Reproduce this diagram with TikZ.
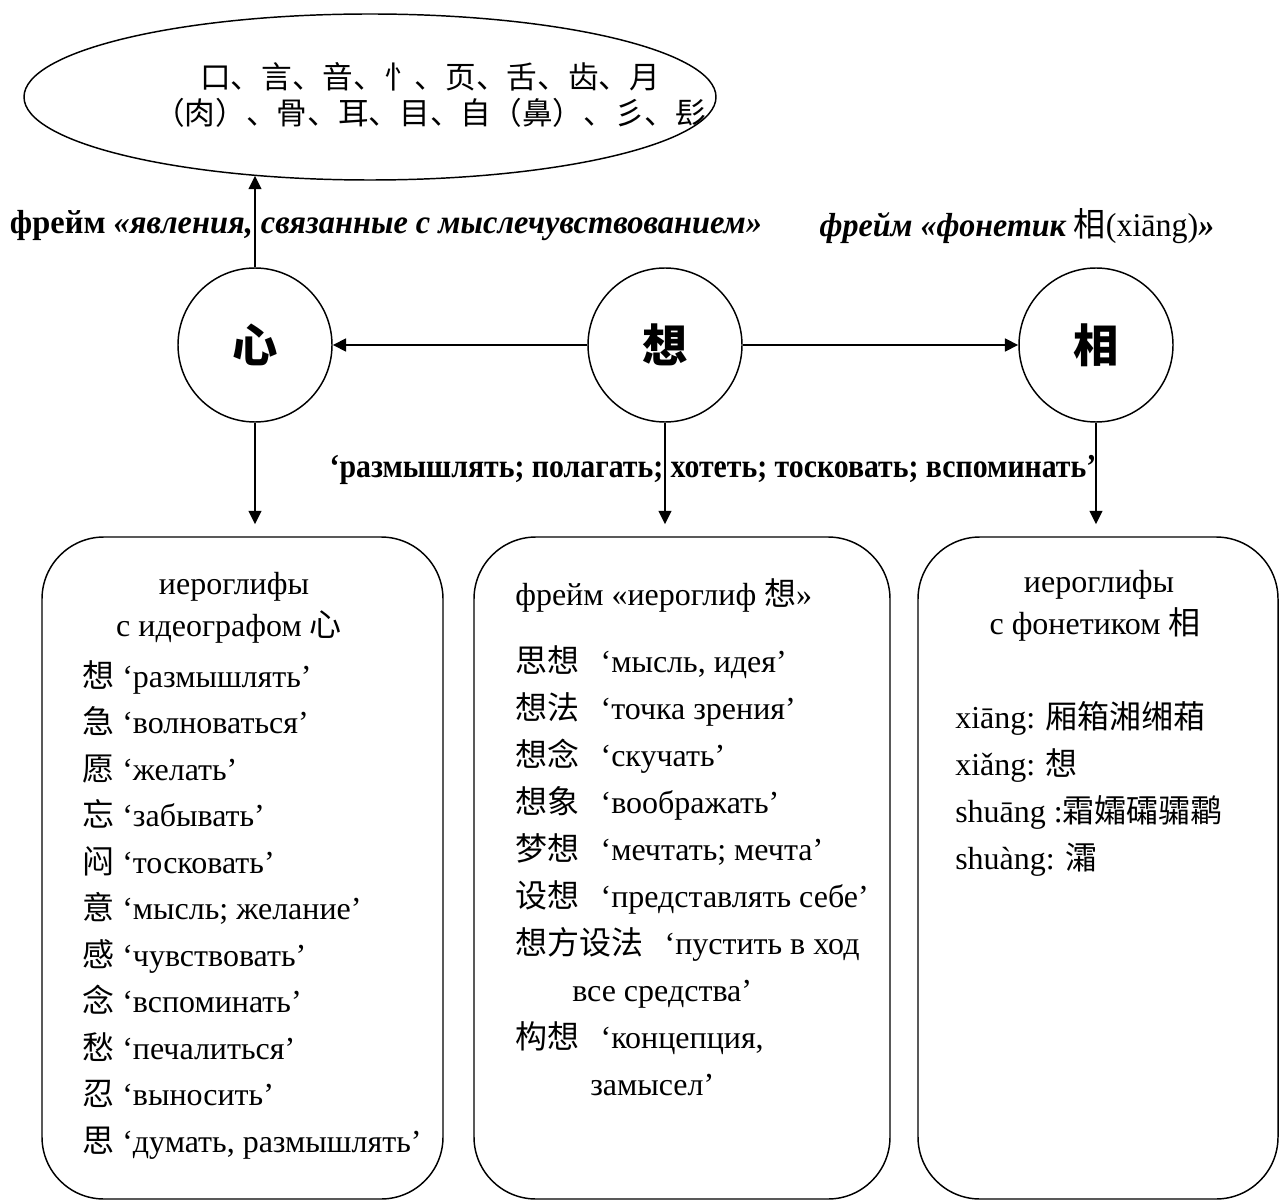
\documentclass[tikz,border=0pt]{standalone}
\usepackage{fontspec}
\setmainfont{Liberation Serif}
\newfontfamily\cjk{Noto Sans CJK SC}
\usetikzlibrary{arrows.meta,shapes.geometric}
\newcommand\zh[1]{{\cjk #1}}
\begin{document}
\begin{tikzpicture}[x=0.75pt,y=-0.75pt,
  circ/.style={circle,draw,line width=1.1pt,minimum size=115.5pt,inner sep=0pt,
    font=\cjk\bfseries\fontsize{34}{40}\selectfont},
  framebox/.style={draw,line width=1.1pt,rounded corners=46.5pt,minimum height=496.5pt,inner sep=0pt},
  body/.style={font=\fontsize{24}{28}\selectfont,inner sep=0pt},
  varr/.style={line width=1.5pt,-{Triangle[length=10pt,width=9.5pt]}},
  harr/.style={line width=2pt,-{Triangle[length=10pt,width=9.5pt]}},
  lab/.style={inner sep=0pt,font=\fontsize{25}{30}\selectfont}]
\useasboundingbox (0,0) rectangle (1280,1201);

% top ellipse
\node[ellipse,draw,line width=1.1pt,minimum width=519pt,minimum height=124.5pt,inner sep=0pt] (ell) at (370,97) {};
\node[align=center,inner sep=0pt,font=\cjk\fontsize{23}{27}\selectfont] (ellTxt) at (430,95)
  {口、言、音、忄、页、舌、齿、月\\（肉）、骨、耳、目、自（鼻）、彡、髟};

% circles
\node[circ] (cXin) at (255,345) {心};
\node[circ] (cXiang) at (665,345) {想};
\node[circ] (cXiangP) at (1096,345) {相};

% labels
\node[lab] (labL) at (386,226) {\resizebox{564pt}{\height}{\bfseries фрейм \itshape «явления, связанные с мыслечувствованием»}};
\node[lab] (labR) at (1017,226) {\resizebox{296pt}{\height}{\bfseries\itshape фрейм «фонетик \normalfont\zh{相}(xiāng)\bfseries\itshape»}};
\node[lab] (labM) at (713,470) {\resizebox{575pt}{\height}{\bfseries ‘размышлять; полагать; хотеть; тосковать; вспоминать’}};

% boxes
\node[framebox,minimum width=300.75pt] (boxL) at (242.5,868) {};
\node[framebox,minimum width=312pt] (boxM) at (682,868) {};
\node[framebox,minimum width=270pt] (boxR) at (1098,868) {};

% connectors
\draw[varr] (cXin.north) -- (cXin.north |- ell.214);
\draw[harr] (cXiang.west) -- (cXin.east);
\draw[harr] (cXiang.east) -- (cXiangP.west);
\draw[varr,shorten >=9pt] (cXin.south) -- (cXin.south |- boxL.north);
\draw[varr,shorten >=9pt] (cXiang.south) -- (cXiang.south |- boxM.north);
\draw[varr,shorten >=9pt] (cXiangP.south) -- (cXiangP.south |- boxR.north);

% left box text
\node[body,anchor=base] (LH1) at (234,594) {иероглифы};
\node[body,anchor=base] (LH2) at (229,636) {с идеографом \zh{心}};
\foreach \c/\t [count=\i from 0] in {想/{‘размышлять’},急/{‘волноваться’},愿/{‘желать’},忘/{‘забывать’},闷/{‘тосковать’},意/{‘мысль; желание’},感/{‘чувствовать’},念/{‘вспоминать’},愁/{‘печалиться’},忍/{‘выносить’},思/{‘думать, размышлять’}}
  \node[body,anchor=base west] (L\i) at (82,{687+46.5*\i}) {\zh{\c} \t};

% middle box text
\node[body,anchor=base west] (MH) at (515,605) {фрейм «иероглиф \zh{想}»};
\foreach \c/\t [count=\i from 0] in {思想/{‘мысль, идея’},想法/{‘точка зрения’},想念/{‘скучать’},想象/{‘воображать’},梦想/{‘мечтать; мечта’},设想/{‘представлять себе’},想方设法/{‘пустить в ход}}
  \node[body,anchor=base west] (M\i) at (515,{672+47*\i}) {\zh{\c}\hspace{16pt}\t};
\node[body,anchor=base west] (M7) at (572,{672+47*7}) {все средства’};
\node[body,anchor=base west] (M8) at (515,{672+47*8}) {\zh{构想}\hspace{16pt}‘концепция,};
\node[body,anchor=base west] (M9) at (590,{672+47*9}) {замысел’};

% right box text
\node[body,anchor=base] (RH1) at (1099,592) {иероглифы};
\node[body,anchor=base] (RH2) at (1095,634) {с фонетиком \zh{相}};
\node[body,anchor=base west] (R0) at (955,728) {xiāng: \zh{厢箱湘缃葙}};
\node[body,anchor=base west] (R1) at (955,775) {xiǎng: \zh{想}};
\node[body,anchor=base west] (R2) at (955,822) {shuāng :\zh{霜孀礵骦鹴}};
\node[body,anchor=base west] (R3) at (955,869) {shuàng: \zh{灀}};
\end{tikzpicture}
\end{document}
